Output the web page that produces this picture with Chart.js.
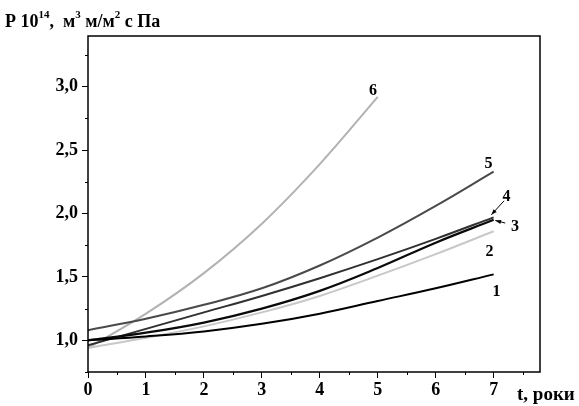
<!DOCTYPE html>
<html>
<head>
<meta charset="utf-8">
<script src="https://cdn.jsdelivr.net/npm/chart.js@4/dist/chart.umd.min.js"></script>
<style>
  html, body { margin: 0; padding: 0; background: #fff; }
</style>
</head>
<body>
<canvas id="chart0" width="579" height="406"></canvas>
<script>
// time, years
var years = [0, 1, 2, 3, 4, 5, 6, 7];
var years6 = [0, 1, 2, 3, 4, 5];

// permeability P*10^14 for curves 1..6
var curve1 = [1.00, 1.03, 1.07, 1.13, 1.21, 1.31, 1.41, 1.52];
var curve2 = [0.94, 1.02, 1.11, 1.22, 1.35, 1.51, 1.68, 1.86];
var curve3 = [1.00, 1.06, 1.14, 1.25, 1.39, 1.57, 1.77, 1.95];
var curve4 = [0.96, 1.09, 1.22, 1.35, 1.49, 1.64, 1.80, 1.97];
var curve5 = [1.08, 1.17, 1.28, 1.41, 1.59, 1.81, 2.06, 2.33];
var curve6 = [0.94, 1.21, 1.53, 1.92, 2.39, 2.92];

var xTicks = [0, 1, 2, 3, 4, 5, 6, 7];
var yTicks = [1.0, 1.5, 2.0, 2.5, 3.0];
var curveNames = ['1', '2', '3', '4', '5', '6'];

var serif = '"Liberation Serif", "Times New Roman", serif';

function toPoints(xs, ys) {
    return xs.map(function (x, i) { return { x: x, y: ys[i] }; });
}

function makeSet(name, xs, ys, color, width) {
    return {
        label: name,
        data: toPoints(xs, ys),
        borderColor: color,
        borderWidth: width,
        pointRadius: 0,
        fill: false,
        tension: 0.4
    };
}

// box, minor ticks, axis titles and curve numbers
var decorations = {
    id: 'decorations',
    afterDraw: function (chart) {
        var c = chart.ctx;
        var a = chart.chartArea;
        var xs = chart.scales.x, ys = chart.scales.y;
        c.save();
        c.strokeStyle = '#000';
        c.lineWidth = 1.5;
        c.strokeRect(a.left, a.top, a.right - a.left, a.bottom - a.top);

        // minor ticks
        c.lineWidth = 1;
        c.beginPath();
        for (var v = 0.5; v < xs.max; v += 1) {
            var px = Math.round(xs.getPixelForValue(v)) + 0.5;
            c.moveTo(px, a.bottom);
            c.lineTo(px, a.bottom + 3);
        }
        for (var w = 0.75; w < ys.max; w += 0.5) {
            var py = Math.round(ys.getPixelForValue(w)) + 0.5;
            c.moveTo(a.left, py);
            c.lineTo(a.left - 3, py);
        }
        c.stroke();

        c.fillStyle = '#000';
        c.textBaseline = 'alphabetic';
        c.textAlign = 'left';

        // y title with superscripts
        var parts = [['P 10', 0], ['14', 1], [',  м', 0], ['3', 1], [' м/м', 0], ['2', 1], [' с Па', 0]];
        var tx = 5, base = 27;
        parts.forEach(function (p) {
            c.font = 'bold ' + (p[1] ? 11 : 18) + 'px ' + serif;
            c.fillText(p[0], tx, p[1] ? base - 9 : base);
            tx += c.measureText(p[0]).width;
        });

        // x title
        c.font = 'bold 19px ' + serif;
        c.fillText('t, роки', 517, 400);

        // curve numbers
        c.font = 'bold 16px ' + serif;
        c.textAlign = 'center';
        var spots = [[7.05, 1.38], [6.93, 1.70], [7.37, 1.89], [7.22, 2.13], [6.91, 2.39], [4.92, 2.97]];
        curveNames.forEach(function (n, i) {
            c.fillText(n, xs.getPixelForValue(spots[i][0]), ys.getPixelForValue(spots[i][1]) + 4);
        });

        // arrows for 3 and 4
        function arrow(x0, y0, x1, y1) {
            var p0x = xs.getPixelForValue(x0), p0y = ys.getPixelForValue(y0);
            var p1x = xs.getPixelForValue(x1), p1y = ys.getPixelForValue(y1);
            var ang = Math.atan2(p1y - p0y, p1x - p0x);
            c.lineWidth = 1;
            c.beginPath();
            c.moveTo(p0x, p0y);
            c.lineTo(p1x, p1y);
            c.stroke();
            c.beginPath();
            c.moveTo(p1x, p1y);
            c.lineTo(p1x - 6 * Math.cos(ang - 0.35), p1y - 6 * Math.sin(ang - 0.35));
            c.lineTo(p1x - 6 * Math.cos(ang + 0.35), p1y - 6 * Math.sin(ang + 0.35));
            c.closePath();
            c.fill();
        }
        arrow(7.2, 1.925, 7.03, 1.945);
        arrow(7.18, 2.10, 6.96, 1.99);
        c.restore();
    }
};

var ctx = document.getElementById('chart0').getContext('2d');

var chart = new Chart(ctx, {
    type: 'line',
    data: {
        datasets: [
            makeSet('1', years, curve1, '#000000', 2),
            makeSet('2', years, curve2, '#c8c8c8', 2),
            makeSet('3', years, curve3, '#0a0a0a', 2.2),
            makeSet('4', years, curve4, '#303030', 2),
            makeSet('5', years, curve5, '#4a4a4a', 2),
            makeSet('6', years6, curve6, '#b2b2b2', 2)
        ]
    },
    options: {
        responsive: false,
        animation: false,
        devicePixelRatio: 1,
        layout: { padding: { left: 0, top: 36, right: 39, bottom: 0 } },
        plugins: { legend: { display: false }, tooltip: { enabled: false } },
        scales: {
            x: {
                type: 'linear',
                min: 0,
                max: 7.8,
                afterBuildTicks: function (s) { s.ticks = xTicks.map(function (v) { return { value: v }; }); },
                afterFit: function (s) { s.height = 34; },
                grid: { drawOnChartArea: false, color: '#000', tickLength: 6, tickWidth: 1 },
                border: { display: false },
                ticks: {
                    color: '#000',
                    padding: 2,
                    maxRotation: 0,
                    autoSkip: false,
                    font: { family: serif, size: 18, weight: 'bold' },
                    callback: function (v) { return String(v); }
                }
            },
            y: {
                type: 'linear',
                min: 0.75,
                max: 3.4,
                afterBuildTicks: function (s) { s.ticks = yTicks.map(function (v) { return { value: v }; }); },
                afterFit: function (s) { s.width = 88; },
                grid: { drawOnChartArea: false, color: '#000', tickLength: 6, tickWidth: 1 },
                border: { display: false },
                ticks: {
                    color: '#000',
                    padding: 4,
                    autoSkip: false,
                    font: { family: serif, size: 18, weight: 'bold' },
                    callback: function (v) { return v.toFixed(1).replace('.', ','); }
                }
            }
        }
    },
    plugins: [decorations]
});
</script>
</body>
</html>
